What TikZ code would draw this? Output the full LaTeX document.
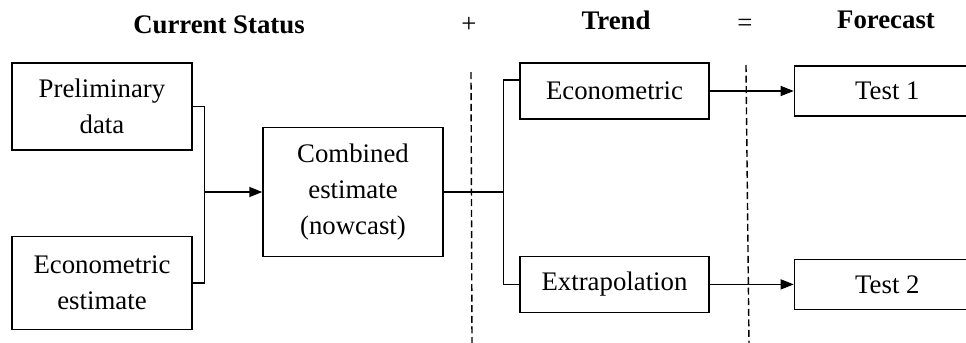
\documentclass[tikz,border=0pt]{standalone}
\usepackage{fontspec}
\setmainfont{Liberation Serif}
\usetikzlibrary{arrows.meta, positioning, calc}

\begin{document}
\begin{tikzpicture}[x=0.5pt, y=-0.5pt, font=\fontsize{13.4}{18}\selectfont]

\tikzstyle{box} = [rectangle, draw=black, line width=0.7pt, align=center, inner sep=2pt]
\tikzstyle{line} = [draw=black, line width=0.7pt]
\tikzstyle{arrow} = [-{Triangle[length=6.5pt, width=5pt]}, line width=0.7pt]
\tikzstyle{divider} = [line width=0.7pt, dash pattern=on 3.5pt off 1.8pt]
\tikzstyle{title} = [font=\fontsize{13.4}{18}\selectfont\bfseries]

\clip (0,0) rectangle (966,343);

% Headings
\node[title] (current) at (219,25) {Current Status};
\node (plus) at (469,25) {+};
\node[title] (trend) at (616,20) {Trend};
\node (equals) at (745,25) {=};
\node[title] (forecast) at (886,20) {Forecast};

% Current status
\node[box, minimum width=90pt, minimum height=43.5pt] (prelim) at (102,106.5) {Preliminary\\data};
\node[box, minimum width=90pt, minimum height=46.5pt, below=42.5pt of prelim] (econest) {Econometric\\estimate};
\node[box, minimum width=90pt, minimum height=64.5pt] (nowcast) at (353,192) {Combined\\estimate\\(nowcast)};

\coordinate (join) at ($(nowcast.west)+(-29pt,0)$);
\draw[line] (prelim.east) -| (join) |- (econest.east);
\draw[arrow] (join) -- (nowcast.west);

% Trend
\node[box, minimum width=94.5pt, minimum height=28pt] (econ) at (614.5,91) {Econometric};
\node[box, minimum width=94.5pt, minimum height=28pt, below=68pt of econ] (extrap) {Extrapolation};

\coordinate (split) at ($(nowcast.east)+(30pt,0)$);
\draw[line] (nowcast.east) -- (split);
\draw[line] ([yshift=5.5pt]econ.west) -| (split) |- (extrap.west);

% Forecast
\node[box, minimum width=93pt, minimum height=25pt, right=42pt of econ] (testone) {Test 1};
\node[box, minimum width=93pt, minimum height=25pt, right=42pt of extrap] (testtwo) {Test 2};

\draw[arrow] (econ) -- (testone);
\draw[arrow] (extrap) -- (testtwo);

% Dividers
\coordinate (d1top) at (471,72);
\coordinate (d1bot) at (472,343);
\coordinate (d2top) at (746,65);
\coordinate (d2bot) at (749,343);
\draw[divider] (d1top) -- (d1bot);
\draw[divider] (d2top) -- (d2bot);

\end{tikzpicture}
\end{document}
